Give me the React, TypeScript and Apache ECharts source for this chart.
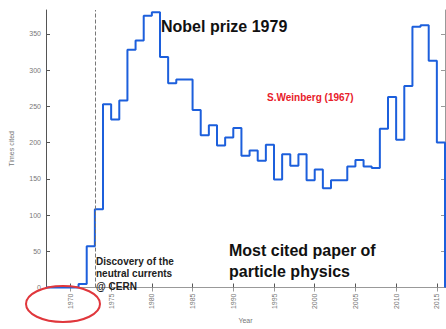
import React, { useEffect, useRef } from "react";
import * as echarts from "echarts";

const years = [
  1967, 1968, 1969, 1970, 1971, 1972, 1973, 1974, 1975, 1976, 1977, 1978, 1979,
  1980, 1981, 1982, 1983, 1984, 1985, 1986, 1987, 1988, 1989, 1990, 1991, 1992,
  1993, 1994, 1995, 1996, 1997, 1998, 1999, 2000, 2001, 2002, 2003, 2004, 2005,
  2006, 2007, 2008, 2009, 2010, 2011, 2012, 2013, 2014, 2015, 2016,
];
const timesCited = [
  0, 0, 0, 0, 5, 57, 108, 253, 232, 258, 328, 341, 375,
  380, 318, 282, 287, 287, 245, 210, 224, 196, 207, 220, 182, 189,
  175, 197, 149, 184, 168, 184, 148, 163, 137, 148, 148, 167, 176,
  167, 165, 219, 263, 204, 278, 360, 362, 313, 200, 0,
];
const xTicks = [1970, 1975, 1980, 1985, 1990, 1995, 2000, 2005, 2010, 2015];
const yTicks = [0, 50, 100, 150, 200, 250, 300, 350];
const neutralCurrentsYear = 1973;

const FONT = "'Liberation Sans', Arial, Helvetica, sans-serif";
const AXIS = "#555";
const LABEL = "#777";

export default function App() {
  const ref = useRef<HTMLDivElement>(null);
  useEffect(() => {
    if (!ref.current) return;
    const chart = echarts.init(ref.current, null, { renderer: "svg" });
    const data = years.map((y, i) => [y, timesCited[i]]);
    const axisCommon = {
      axisLine: { lineStyle: { color: AXIS, width: 1 } },
      splitLine: { show: false },
    };
    chart.setOption({
      animation: false,
      grid: { left: 43, right: 1, top: 10, bottom: 32 },
      xAxis: [
        {
          type: "value",
          min: 1967,
          max: 2016,
          name: "Year",
          nameLocation: "middle",
          nameGap: 26,
          nameTextStyle: { fontSize: 7, color: LABEL, fontFamily: FONT },
          ...axisCommon,
          axisTick: { inside: true, length: 4, customValues: xTicks, lineStyle: { color: AXIS } },
          axisLabel: {
            customValues: xTicks,
            rotate: 90,
            fontSize: 7,
            color: LABEL,
            fontFamily: FONT,
            margin: 6,
            formatter: (v: number) => String(v),
          },
        },
        {
          type: "value",
          position: "top",
          min: 1967,
          max: 2016,
          ...axisCommon,
          axisLine: { lineStyle: { color: "#999", width: 1 } },
          axisTick: { inside: true, length: 4, customValues: xTicks, lineStyle: { color: "#999" } },
          axisLabel: { show: false },
        },
      ],
      yAxis: [
        {
          type: "value",
          min: 0,
          max: 383,
          name: "Times cited",
          nameLocation: "middle",
          nameGap: 31,
          nameTextStyle: { fontSize: 7, color: LABEL, fontFamily: FONT },
          ...axisCommon,
          axisTick: { inside: true, length: 4, customValues: yTicks, lineStyle: { color: AXIS } },
          axisLabel: {
            customValues: yTicks,
            fontSize: 7,
            color: LABEL,
            fontFamily: FONT,
            margin: 5,
          },
        },
        {
          type: "value",
          position: "right",
          min: 0,
          max: 383,
          ...axisCommon,
          axisLine: { lineStyle: { color: "#999", width: 1 } },
          axisTick: { inside: true, length: 4, customValues: yTicks, lineStyle: { color: "#999" } },
          axisLabel: { show: false },
        },
      ],
      series: [
        {
          type: "line",
          step: "end",
          data,
          clip: false,
          showSymbol: false,
          symbol: "none",
          lineStyle: { color: "#1c5fdc", width: 2 },
          z: 3,
          markLine: {
            silent: true,
            symbol: "none",
            label: { show: false },
            lineStyle: { type: "dashed", color: "#777", width: 1 },
            data: [{ xAxis: neutralCurrentsYear }],
          },
        },
      ],
      graphic: [
        {
          type: "text",
          left: 161,
          top: 18,
          z: 10,
          style: { text: "Nobel prize 1979", font: `bold 16px ${FONT}`, fill: "#111" },
        },
        {
          type: "text",
          left: 267,
          top: 92,
          z: 10,
          style: { text: "S.Weinberg (1967)", font: `bold 10px ${FONT}`, fill: "#e8202a" },
        },
        {
          type: "text",
          left: 229,
          top: 242,
          z: 10,
          style: { text: "Most cited paper of", font: `bold 16px ${FONT}`, fill: "#111" },
        },
        {
          type: "text",
          left: 229,
          top: 263,
          z: 10,
          style: { text: "particle physics", font: `bold 16px ${FONT}`, fill: "#111" },
        },
        {
          type: "text",
          left: 96,
          top: 256,
          z: 10,
          style: { text: "Discovery of the", font: `bold 10px ${FONT}`, fill: "#222" },
        },
        {
          type: "text",
          left: 96,
          top: 268,
          z: 10,
          style: { text: "neutral currents", font: `bold 10px ${FONT}`, fill: "#222" },
        },
        {
          type: "text",
          left: 96,
          top: 281,
          z: 10,
          style: { text: "@ CERN", font: `bold 10px ${FONT}`, fill: "#222" },
        },
        {
          type: "ellipse",
          z: 10,
          shape: { cx: 63, cy: 304, rx: 37, ry: 18 },
          style: { fill: "none", stroke: "#e0373c", lineWidth: 2 },
        },
      ],
    });
    return () => chart.dispose();
  }, []);
  return (
    <div
      ref={ref}
      style={{ position: "absolute", left: 0, top: 0, width: 446, height: 329 }}
    />
  );
}
